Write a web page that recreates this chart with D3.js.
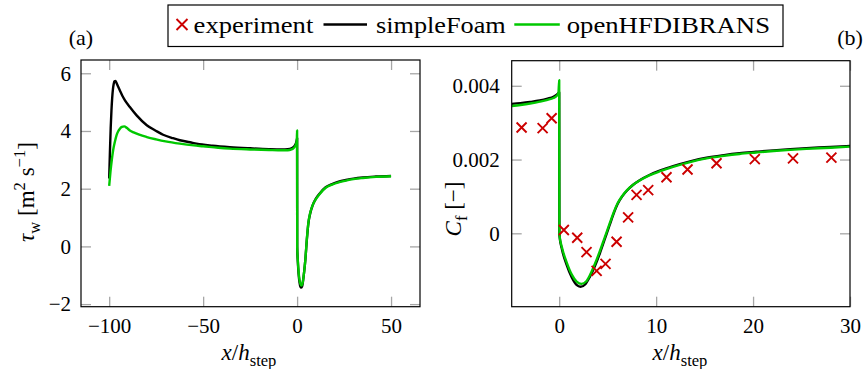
<!DOCTYPE html>
<html>
<head>
<meta charset="utf-8">
<script src="https://cdn.jsdelivr.net/npm/d3@7"></script>
<style>
  html, body { margin: 0; padding: 0; background: #fff; }
  svg { display: block; }
</style>
</head>
<body>
<svg id="chart" width="865" height="369"></svg>
<script>
// ---- wall shear stress, full domain (panel a) ----
const tauSimpleX = [-100, -99.6, -99.2, -98.8, -98.4, -98.0, -97.6, -97.2, -96.7, -96.0, -95.2, -94.3, -93.0, -91.6, -89.0, -85.4, -80.0, -75.0, -71.3, -66.0, -62.4, -57.0, -53.5, -45.0, -35.8, -25.0, -15.0, -8.0, -5.0, -3.0, -2.0, -1.0, -0.5, -0.2, 0, 0.05, 0.4, 0.8, 1.3, 1.8, 2.2, 2.7, 3.2, 3.8, 4.4, 5.2, 6.0, 7.0, 8.3, 10.0, 11.8, 15.2, 18.6, 22.1, 26.0, 30.0, 35.0, 42.0, 50.0];
const tauSimple = [2.35, 3.3, 4.1, 4.7, 5.15, 5.45, 5.63, 5.72, 5.73, 5.65, 5.53, 5.40, 5.22, 5.06, 4.83, 4.54, 4.20, 4.00, 3.87, 3.75, 3.68, 3.61, 3.56, 3.49, 3.44, 3.40, 3.37, 3.36, 3.37, 3.40, 3.44, 3.52, 3.60, 3.68, 3.75, 0.0, -0.55, -0.95, -1.25, -1.40, -1.43, -1.38, -1.18, -0.85, -0.45, 0.24, 0.80, 1.15, 1.43, 1.66, 1.82, 2.05, 2.16, 2.24, 2.30, 2.35, 2.39, 2.42, 2.44];

const tauHfdibX = [-100, -99.3, -98.6, -97.9, -97.0, -96.1, -95.2, -94.3, -93.2, -92.0, -90.5, -89.0, -87.0, -84.0, -80.0, -75.0, -70.0, -62.4, -55.0, -50.0, -42.0, -35.8, -25.0, -15.0, -8.0, -5.0, -3.0, -2.0, -1.0, -0.5, -0.15, 0, 0.05, 0.4, 0.8, 1.3, 1.8, 2.3, 2.8, 3.3, 3.8, 4.4, 5.2, 6.0, 7.0, 8.3, 10.0, 11.8, 15.2, 18.6, 22.1, 26.0, 30.0, 35.0, 42.0, 50.0];
const tauHfdib = [2.10, 2.60, 3.00, 3.33, 3.62, 3.85, 3.99, 4.08, 4.14, 4.16, 4.10, 4.02, 3.95, 3.87, 3.79, 3.71, 3.64, 3.56, 3.50, 3.47, 3.42, 3.39, 3.36, 3.34, 3.33, 3.33, 3.36, 3.40, 3.48, 3.56, 3.68, 4.02, 0.0, -0.50, -0.88, -1.17, -1.31, -1.36, -1.30, -1.12, -0.85, -0.45, 0.27, 0.82, 1.17, 1.43, 1.64, 1.80, 2.03, 2.14, 2.22, 2.28, 2.33, 2.37, 2.41, 2.43];

// ---- skin friction coefficient near the step (panel b) ----
const cfSimpleX = [-4.9, -4, -3, -2, -1.2, -0.6, -0.25, 0, 0.02, 0.3, 0.76, 1.3, 1.79, 2.2, 2.7, 3.16, 3.7, 4.2, 4.7, 5.2, 5.6, 6.0, 6.5, 7.0, 7.6, 8.3, 9.3, 10.5, 11.75, 13.5, 15.2, 17, 18.6, 20.3, 22.1, 25.5, 28, 30];
const cfSimple = [0.00351, 0.00353, 0.00356, 0.00360, 0.00365, 0.00370, 0.00376, 0.00382, -0.00005, -0.00045, -0.00085, -0.00120, -0.00140, -0.00145, -0.00138, -0.00118, -0.00088, -0.00054, -0.00016, 0.00022, 0.00052, 0.00078, 0.00100, 0.00116, 0.00131, 0.00144, 0.00158, 0.00171, 0.00182, 0.00195, 0.00205, 0.00212, 0.00217, 0.00221, 0.00225, 0.00231, 0.00234, 0.00237];

const cfHfdibX = [-4.9, -4, -3, -2, -1.2, -0.6, -0.25, -0.08, 0, 0.02, 0.3, 0.76, 1.3, 1.8, 2.3, 2.8, 3.2, 3.7, 4.2, 4.7, 5.2, 5.6, 6.0, 6.5, 7.0, 7.6, 8.3, 9.3, 10.5, 11.75, 13.5, 15.2, 17, 18.6, 20.3, 22.1, 25.5, 28, 30];
const cfHfdib = [0.00345, 0.00348, 0.00352, 0.00357, 0.00362, 0.00367, 0.00373, 0.00380, 0.00415, -0.00003, -0.00040, -0.00078, -0.00112, -0.00131, -0.00137, -0.00130, -0.00112, -0.00082, -0.00048, -0.00011, 0.00026, 0.00055, 0.00080, 0.00101, 0.00117, 0.00131, 0.00143, 0.00157, 0.00169, 0.00180, 0.00193, 0.00203, 0.00210, 0.00215, 0.00219, 0.00223, 0.00229, 0.00232, 0.00235];

const expX = [-3.88, -1.71, -0.78, 0.48, 1.86, 2.82, 3.86, 4.78, 5.92, 7.11, 7.98, 9.18, 11.07, 13.24, 16.23, 20.18, 24.12, 28.08];
const expCf = [0.00287, 0.00285, 0.00312, 0.00009, -0.00012, -0.00051, -0.00102, -0.00083, -0.00023, 0.00043, 0.00104, 0.00117, 0.00152, 0.00173, 0.00190, 0.00201, 0.00203, 0.00205];

// ---- ticks and legend text ----
const tauXTicks = [-100, -50, 0, 50];
const tauYTicks = [-2, 0, 2, 4, 6];
const cfXTicks = [0, 10, 20, 30];
const cfYTicks = [0, 0.002, 0.004];
const cfYTickLabels = ["0", "0.002", "0.004"];
const legendLabels = ["experiment", "simpleFoam", "openHFDIBRANS"];

const RED = "#cc0000", GREEN = "#00c800", BLACK = "#000000", TICK = "#a6a6a6";
const SERIF = '"Liberation Serif", serif';

const svg = d3.select("#chart");
const fmtMinus = d => d3.format("")(d).replace("-", "\u2212");

function zip(xs, ys) { return xs.map((x, i) => [x, ys[i]]); }

function drawPanel(opts) {
  const { id, x, y, xTicks, yTicks, yLabels, series, markers, yPad } = opts;
  const [x0, x1] = x.range();
  const [y0, y1] = y.range(); // y0 bottom, y1 top
  const g = svg.append("g").attr("class", "panel-" + id);

  g.append("clipPath").attr("id", "clip-" + id)
    .append("rect").attr("x", x0).attr("y", y1).attr("width", x1 - x0).attr("height", y0 - y1);

  const styleAxis = sel => {
    sel.select(".domain").remove();
    sel.selectAll(".tick line").attr("stroke", TICK).attr("stroke-width", 1.3);
    sel.selectAll(".tick text").attr("fill", "#000")
      .style("font-family", SERIF).style("font-size", "21px");
  };

  // bottom / top ticks (pointing inwards)
  g.append("g").attr("transform", `translate(0,${y0})`)
    .call(d3.axisBottom(x).tickValues(xTicks).tickSize(-10).tickPadding(11).tickFormat(fmtMinus))
    .call(styleAxis);
  g.append("g").attr("transform", `translate(0,${y1})`)
    .call(d3.axisTop(x).tickValues(xTicks).tickSize(-10).tickFormat(""))
    .call(styleAxis);
  // left / right ticks
  const left = d3.axisLeft(y).tickValues(yTicks).tickSize(-10).tickPadding(yPad);
  left.tickFormat(yLabels ? ((d, i) => yLabels[i]) : fmtMinus);
  g.append("g").attr("transform", `translate(${x0},0)`).call(left).call(styleAxis);
  g.append("g").attr("transform", `translate(${x1},0)`)
    .call(d3.axisRight(y).tickValues(yTicks).tickSize(-10).tickFormat(""))
    .call(styleAxis);

  const plot = g.append("g").attr("clip-path", `url(#clip-${id})`);
  const line = d3.line().x(d => x(d[0])).y(d => y(d[1])).curve(d3.curveMonotoneX);
  series.forEach(s => {
    plot.append("path").datum(s.data)
      .attr("fill", "none").attr("stroke", s.color).attr("stroke-width", 2.4)
      .attr("stroke-linejoin", "round").attr("d", line);
  });
  if (markers) {
    const r = 5;
    plot.selectAll("path.exp").data(markers).join("path").attr("class", "exp")
      .attr("d", d => {
        const cx = x(d[0]), cy = y(d[1]);
        return `M${cx - r},${cy - r}L${cx + r},${cy + r}M${cx - r},${cy + r}L${cx + r},${cy - r}`;
      })
      .attr("stroke", RED).attr("stroke-width", 1.9).attr("fill", "none");
  }

  // frame
  g.append("rect").attr("x", x0).attr("y", y1).attr("width", x1 - x0).attr("height", y0 - y1)
    .attr("fill", "none").attr("stroke", "#000").attr("stroke-width", 1.2);
  return g;
}

// label helper: parts are [text, style] with style in {i, r, sub, sup}
function richText(parent, parts, size) {
  const t = parent.append("text").style("font-size", size + "px").style("font-family", SERIF);
  let shift = 0;
  parts.forEach(([txt, st]) => {
    const sp = t.append("tspan").text(txt);
    let target = 0;
    if (st === "sub") { target = size * 0.25; sp.style("font-size", (size * 0.72) + "px"); }
    if (st === "sup") { target = -size * 0.4; sp.style("font-size", (size * 0.72) + "px"); }
    if (st === "i") sp.style("font-style", "italic");
    if (target !== shift) { sp.attr("dy", target - shift); shift = target; }
  });
  return t;
}

// panel (a)
const xL = d3.scaleLinear().domain([-115, 65.4]).range([81, 420]);
const yL = d3.scaleLinear().domain([-2.09, 6.46]).range([306.7, 60]);
drawPanel({
  id: "a", x: xL, y: yL, xTicks: tauXTicks, yTicks: tauYTicks, yPad: 10,
  series: [
    { data: zip(tauSimpleX, tauSimple), color: BLACK },
    { data: zip(tauHfdibX, tauHfdib), color: GREEN }
  ]
});

// panel (b)
const xR = d3.scaleLinear().domain([-4.9, 30]).range([511.7, 850]);
const yR = d3.scaleLinear().domain([-0.00199, 0.00468]).range([306.7, 60.7]);
drawPanel({
  id: "b", x: xR, y: yR, xTicks: cfXTicks, yTicks: cfYTicks, yLabels: cfYTickLabels, yPad: 12,
  series: [
    { data: zip(cfSimpleX, cfSimple), color: BLACK },
    { data: zip(cfHfdibX, cfHfdib), color: GREEN }
  ],
  markers: zip(expX, expCf)
});

// axis titles
const xTitle = [["x", "i"], ["/", "r"], ["h", "i"], ["step", "sub"]];
richText(svg, xTitle, 23).attr("text-anchor", "middle").attr("x", 249).attr("y", 360);
richText(svg, xTitle, 23).attr("text-anchor", "middle").attr("x", 680).attr("y", 360);

richText(svg.append("g").attr("transform", "translate(34,192) rotate(-90)"),
  [["\u03c4", "i"], ["w", "sub"], [" [m", "r"], ["2", "sup"], [" s", "r"], ["\u22121", "sup"], ["]", "r"]], 23)
  .attr("text-anchor", "middle");
richText(svg.append("g").attr("transform", "translate(461,209) rotate(-90)"),
  [["C", "i"], ["f", "sub"], [" [\u2212]", "r"]], 23)
  .attr("text-anchor", "middle");

// panel tags
[["(a)", 81], ["(b)", 850]].forEach(([t, x]) => {
  svg.append("text").attr("x", x).attr("y", 45).attr("text-anchor", "middle")
    .style("font-size", "22px").style("font-family", SERIF).text(t);
});

// legend
const lg = svg.append("g").attr("class", "legend");
lg.append("rect").attr("x", 168).attr("y", 5).attr("width", 615).attr("height", 41.5)
  .attr("fill", "#fff").attr("stroke", "#000").attr("stroke-width", 1.2);
const legendItems = [
  { kind: "cross", color: RED, sx: 182, tx: 193.6, tw: 119.7 },
  { kind: "line", color: BLACK, sx: 323.5, ex: 367, tx: 376, tw: 129.8 },
  { kind: "line", color: GREEN, sx: 514.3, ex: 559.8, tx: 566.7, tw: 203.3 }
];
legendItems.forEach((it, i) => {
  const cy = 24.5;
  if (it.kind === "cross") {
    const r = 5.5;
    lg.append("path")
      .attr("d", `M${it.sx - r},${cy - r}L${it.sx + r},${cy + r}M${it.sx - r},${cy + r}L${it.sx + r},${cy - r}`)
      .attr("stroke", it.color).attr("stroke-width", 1.9);
  } else {
    lg.append("line").attr("x1", it.sx).attr("x2", it.ex).attr("y1", cy).attr("y2", cy)
      .attr("stroke", it.color).attr("stroke-width", 2.4);
  }
  lg.append("text").attr("x", it.tx).attr("y", 32.5)
    .style("font-size", "24px").style("font-family", SERIF)
    .attr("textLength", it.tw).attr("lengthAdjust", "spacingAndGlyphs")
    .text(legendLabels[i]);
});
</script>
</body>
</html>
